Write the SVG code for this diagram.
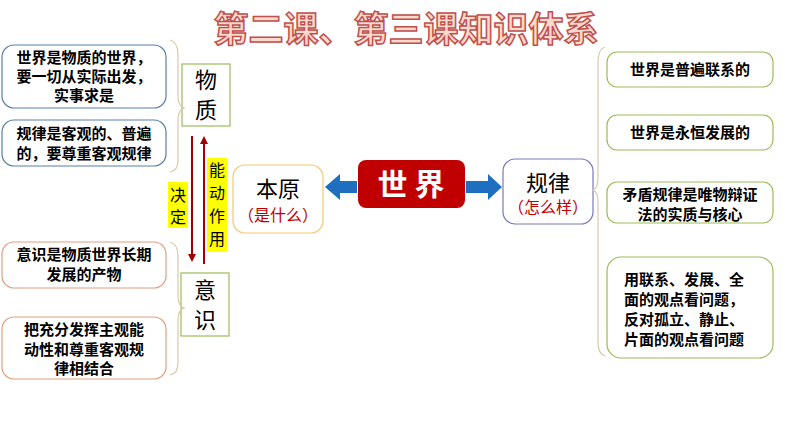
<svg xmlns="http://www.w3.org/2000/svg" width="794" height="447" viewBox="0 0 794 447">
<defs>
<style>
text{font-family:"Noto Sans CJK SC","Liberation Sans",sans-serif;}
.b{font-weight:bold;font-size:15px;fill:#000;}
.n{font-size:22px;fill:#000;}
.r{font-size:16px;fill:#c00000;}
.v{font-size:16px;fill:#000;}
.box{fill:#fff;stroke-width:1.2;}
.br{fill:none;stroke:#d9c9a8;stroke-width:1.2;}
</style>
<marker id="ah" markerWidth="8" markerHeight="8" refX="6" refY="4" orient="auto" markerUnits="userSpaceOnUse"><path d="M0,0L8,4L0,8z" fill="#a00000"/></marker>
</defs>
<rect width="794" height="447" fill="#fff"/>
<text x="406" y="42" text-anchor="middle" font-size="35" font-weight="bold" fill="#fbd9cc" stroke="#c0504d" stroke-width="1.5">第二课、第三课知识体系</text>

<g id="left1"><rect class="box" x="2" y="45" width="164" height="63" rx="12" stroke="#5a7fa8"/>
<text class="b" x="84" y="63" text-anchor="middle">世界是物质的世界，</text>
<text class="b" x="84" y="82" text-anchor="middle">要一切从实际出发，</text>
<text class="b" x="84" y="101" text-anchor="middle">实事求是</text></g>
<g id="left2"><rect class="box" x="2" y="120" width="164" height="46" rx="12" stroke="#5a7fa8"/>
<text class="b" x="84" y="139" text-anchor="middle">规律是客观的、普遍</text>
<text class="b" x="84" y="159" text-anchor="middle">的，要尊重客观规律</text></g>
<g id="left3"><rect class="box" x="2" y="242" width="164" height="46" rx="12" stroke="#e0a080"/>
<text class="b" x="84" y="260" text-anchor="middle">意识是物质世界长期</text>
<text class="b" x="84" y="280" text-anchor="middle">发展的产物</text></g>
<g id="left4"><rect class="box" x="2" y="317" width="164" height="62" rx="12" stroke="#e0a080"/>
<text class="b" x="84" y="335" text-anchor="middle">把充分发挥主观能</text>
<text class="b" x="84" y="355" text-anchor="middle">动性和尊重客观规</text>
<text class="b" x="84" y="374" text-anchor="middle">律相结合</text></g>

<g id="wuzhi"><rect class="box" x="182" y="64" width="48" height="62" stroke="#9bbb59"/>
<text class="n" x="206" y="88" text-anchor="middle">物</text><text class="n" x="206" y="118" text-anchor="middle">质</text></g>
<g id="yishi"><rect class="box" x="181" y="273" width="48" height="63" stroke="#9bbb59"/>
<text class="n" x="205" y="298" text-anchor="middle">意</text><text class="n" x="205" y="328" text-anchor="middle">识</text></g>

<g id="benyuan"><rect class="box" x="233" y="165" width="90" height="68" rx="12" stroke="#f4c870" stroke-width="2"/>
<text class="n" x="278" y="197" text-anchor="middle">本原</text>
<text class="r" x="278" y="221" text-anchor="middle">（是什么）</text></g>
<g id="shijie"><rect x="358" y="160" width="107" height="48" rx="8" fill="#c00000"/>
<text x="411" y="195" text-anchor="middle" font-size="30" font-weight="bold" fill="#fff">世 界</text></g>
<g id="guilv"><rect class="box" x="503" y="159" width="90" height="65" rx="12" stroke="#7a7ab8"/>
<text class="n" x="548" y="191" text-anchor="middle">规律</text>
<text class="r" x="548" y="213" text-anchor="middle">（怎么样）</text></g>

<g id="r1"><rect class="box" x="607" y="52" width="166" height="35" rx="10" stroke="#9bbb59"/>
<text class="b" x="690" y="75" text-anchor="middle">世界是普遍联系的</text></g>
<g id="r2"><rect class="box" x="607" y="115" width="166" height="35" rx="10" stroke="#9bbb59"/>
<text class="b" x="690" y="138" text-anchor="middle">世界是永恒发展的</text></g>
<g id="r3"><rect class="box" x="607" y="182" width="166" height="41" rx="10" stroke="#9bbb59"/>
<text class="b" x="690" y="200" text-anchor="middle">矛盾规律是唯物辩证</text>
<text class="b" x="690" y="220" text-anchor="middle">法的实质与核心</text></g>
<g id="r4"><rect class="box" x="607" y="257" width="166" height="101" rx="14" stroke="#9bbb59"/>
<text class="b" x="624" y="285">用联系、发展、全</text>
<text class="b" x="624" y="305">面的观点看问题，</text>
<text class="b" x="624" y="325">反对孤立、静止、</text>
<text class="b" x="624" y="345">片面的观点看问题</text></g>

<g id="connectors">
<path class="br" d="M170,40 Q178,42 178,55 L178,96 Q178,106 184,108 Q178,110 178,120 L178,160 Q178,171 170,172"/>
<path class="br" d="M170,242 Q178,244 178,256 L178,296 Q178,306 184,308 Q178,310 178,320 L178,362 Q178,374 170,375"/>
<path class="br" d="M605,47 Q598,49 598,62 L598,178 Q598,188 593,190 Q598,192 598,202 L598,342 Q598,354 605,356"/>
<line x1="192" y1="136" x2="192" y2="260" stroke="#a00000" stroke-width="2" marker-end="url(#ah)"/>
<line x1="204" y1="264" x2="204" y2="138" stroke="#a00000" stroke-width="2" marker-end="url(#ah)"/>
<rect x="168" y="182" width="20" height="46" fill="#ffff00"/>
<text class="v" x="178" y="201" text-anchor="middle">决</text>
<text class="v" x="178" y="223" text-anchor="middle">定</text>
<rect x="207" y="158" width="20" height="94" fill="#ffff00"/>
<text class="v" x="217" y="176" text-anchor="middle">能</text>
<text class="v" x="217" y="199" text-anchor="middle">动</text>
<text class="v" x="217" y="222" text-anchor="middle">作</text>
<text class="v" x="217" y="245" text-anchor="middle">用</text>
<path d="M357,181 L340,181 L340,174 L325,187 L340,200 L340,193 L357,193z" fill="#1f6fc0"/>
<path d="M466,181 L488,181 L488,174 L502,187 L488,200 L488,193 L466,193z" fill="#1f6fc0"/>
</g>
</svg>
